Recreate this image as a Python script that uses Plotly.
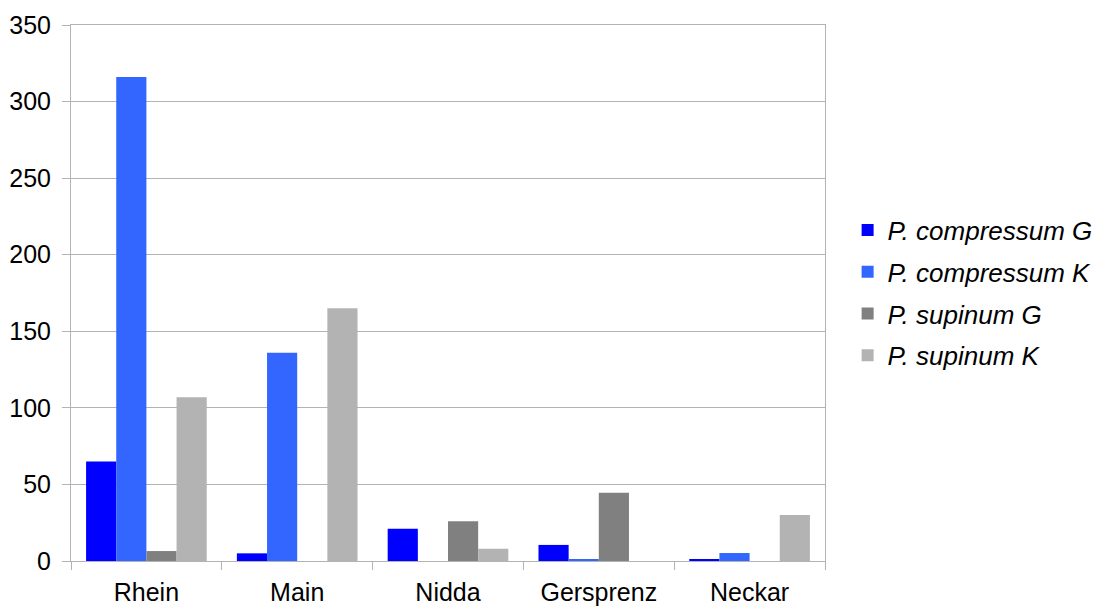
import plotly.graph_objects as go

categories = ["Rhein", "Main", "Nidda", "Gersprenz", "Neckar"]
series_names = ["P. compressum G", "P. compressum K", "P. supinum G", "P. supinum K"]
comp_G = [65, 5, 21, 10.5, 1.3]
comp_K = [316, 136, 0, 1.3, 5.2]
sup_G = [6.5, 0, 26, 44.5, 0]
sup_K = [107, 165, 8, 0, 30]
colors = ["#0000ff", "#3366ff", "#808080", "#b3b3b3"]

fig = go.Figure()
for i, (name, vals) in enumerate(zip(series_names, [comp_G, comp_K, sup_G, sup_K])):
    fig.add_trace(go.Bar(
        x=categories, y=vals, name=name, marker=dict(color=colors[i], line=dict(width=0)),
        legendgroup=f"g{i}",
    ))

font = "Liberation Sans, Arial, sans-serif"
fig.update_layout(
    width=1104, height=609,
    margin=dict(l=71, r=279, t=25, b=48, autoexpand=False),
    paper_bgcolor="white", plot_bgcolor="white",
    barmode="group", bargap=0.2, bargroupgap=0,
    font=dict(family=font, size=25, color="black"),
    legend=dict(
        x=1.03, y=0.5, xanchor="left", yanchor="middle",
        font=dict(family=font, size=26, style="italic"),
        tracegroupgap=5, itemwidth=30,
    ),
    showlegend=True,
)
fig.update_xaxes(
    showline=True, linecolor="#b3b3b3", linewidth=1, mirror=True,
    ticks="outside", tickson="boundaries", ticklen=8, tickcolor="#b3b3b3",
    showgrid=False, ticklabelstandoff=9, automargin=False,
)
fig.update_yaxes(
    range=[0, 350], dtick=50, showline=True, linecolor="#b3b3b3", linewidth=1, mirror=True,
    ticks="outside", ticklen=8, tickcolor="#b3b3b3",
    showgrid=True, gridcolor="#b3b3b3", gridwidth=1, zeroline=False,
    ticklabelstandoff=6, automargin=False,
)
fig.write_html("out.html")
